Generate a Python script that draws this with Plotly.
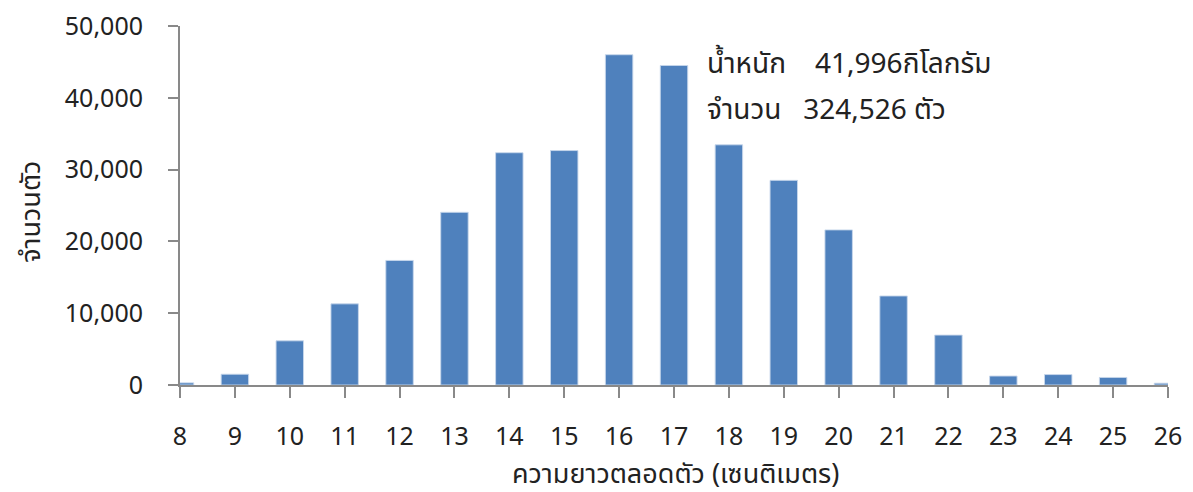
import plotly.graph_objects as go

lengths = [8, 9, 10, 11, 12, 13, 14, 15, 16, 17, 18, 19, 20, 21, 22, 23, 24, 25, 26]
counts = [300, 1500, 6150, 11300, 17350, 24050, 32350, 32650, 46000, 44500,
          33450, 28500, 21600, 12400, 6950, 1250, 1450, 1050, 250]
y_ticks = [0, 10000, 20000, 30000, 40000, 50000]
y_tick_labels = ["0", "10,000", "20,000", "30,000", "40,000", "50,000"]
info_lines = ["น้ำหนัก    41,996กิโลกรัม", "จำนวน   324,526 ตัว"]
x_title = "ความยาวตลอดตัว (เซนติเมตร)"
y_title = "จำนวนตัว"

font_family = "Noto Sans, Noto Sans Thai, sans-serif"
txt = "#222222"
axis_col = "#898989"

fig = go.Figure()
fig.add_trace(go.Bar(
    x=lengths, y=counts, width=0.5,
    marker=dict(color="#4F81BD", line=dict(color="rgba(200,215,235,0.9)", width=1)),
    cliponaxis=True,
))

fig.update_layout(
    width=1185, height=484,
    margin=dict(l=172, r=25, t=18, b=107),
    plot_bgcolor="white", paper_bgcolor="white",
    showlegend=False,
    font=dict(family=font_family, size=25, color=txt),
    xaxis=dict(
        range=[8, 26], tickmode="array", tickvals=lengths,
        ticktext=[str(v) for v in lengths],
        showgrid=False, zeroline=False, automargin=False,
        showline=True, linecolor=axis_col, linewidth=2,
        ticks="outside", ticklen=11, tickwidth=2, tickcolor=axis_col,
        tickfont=dict(size=25, color=txt), ticklabelstandoff=17,
        ticklabeloverflow="allow",
    ),
    yaxis=dict(
        range=[0, 50000], tickmode="array", tickvals=y_ticks, ticktext=y_tick_labels,
        showgrid=False, zeroline=False, automargin=False,
        showline=True, linecolor=axis_col, linewidth=2,
        ticks="outside", ticklen=10, tickwidth=2, tickcolor=axis_col,
        tickfont=dict(size=25, color=txt), ticklabelstandoff=20,
        ticklabeloverflow="allow",
    ),
)

fig.add_annotation(
    x=0.502, y=-0.245, xref="paper", yref="paper", text=x_title, showarrow=False,
    xanchor="center", yanchor="middle", font=dict(size=27, color=txt, family=font_family),
)
fig.add_annotation(
    x=-0.152, y=0.482, xref="paper", yref="paper", text=y_title, showarrow=False,
    textangle=-90, xanchor="center", yanchor="middle",
    font=dict(size=27, color=txt, family=font_family),
)

for i, line in enumerate(info_lines):
    fig.add_annotation(
        x=17.56, y=44940 - i * 6400, xref="x", yref="y",
        text=line, showarrow=False, xanchor="left", yanchor="middle",
        font=dict(size=28, color=txt, family=font_family),
    )

fig.write_html("out.html")
